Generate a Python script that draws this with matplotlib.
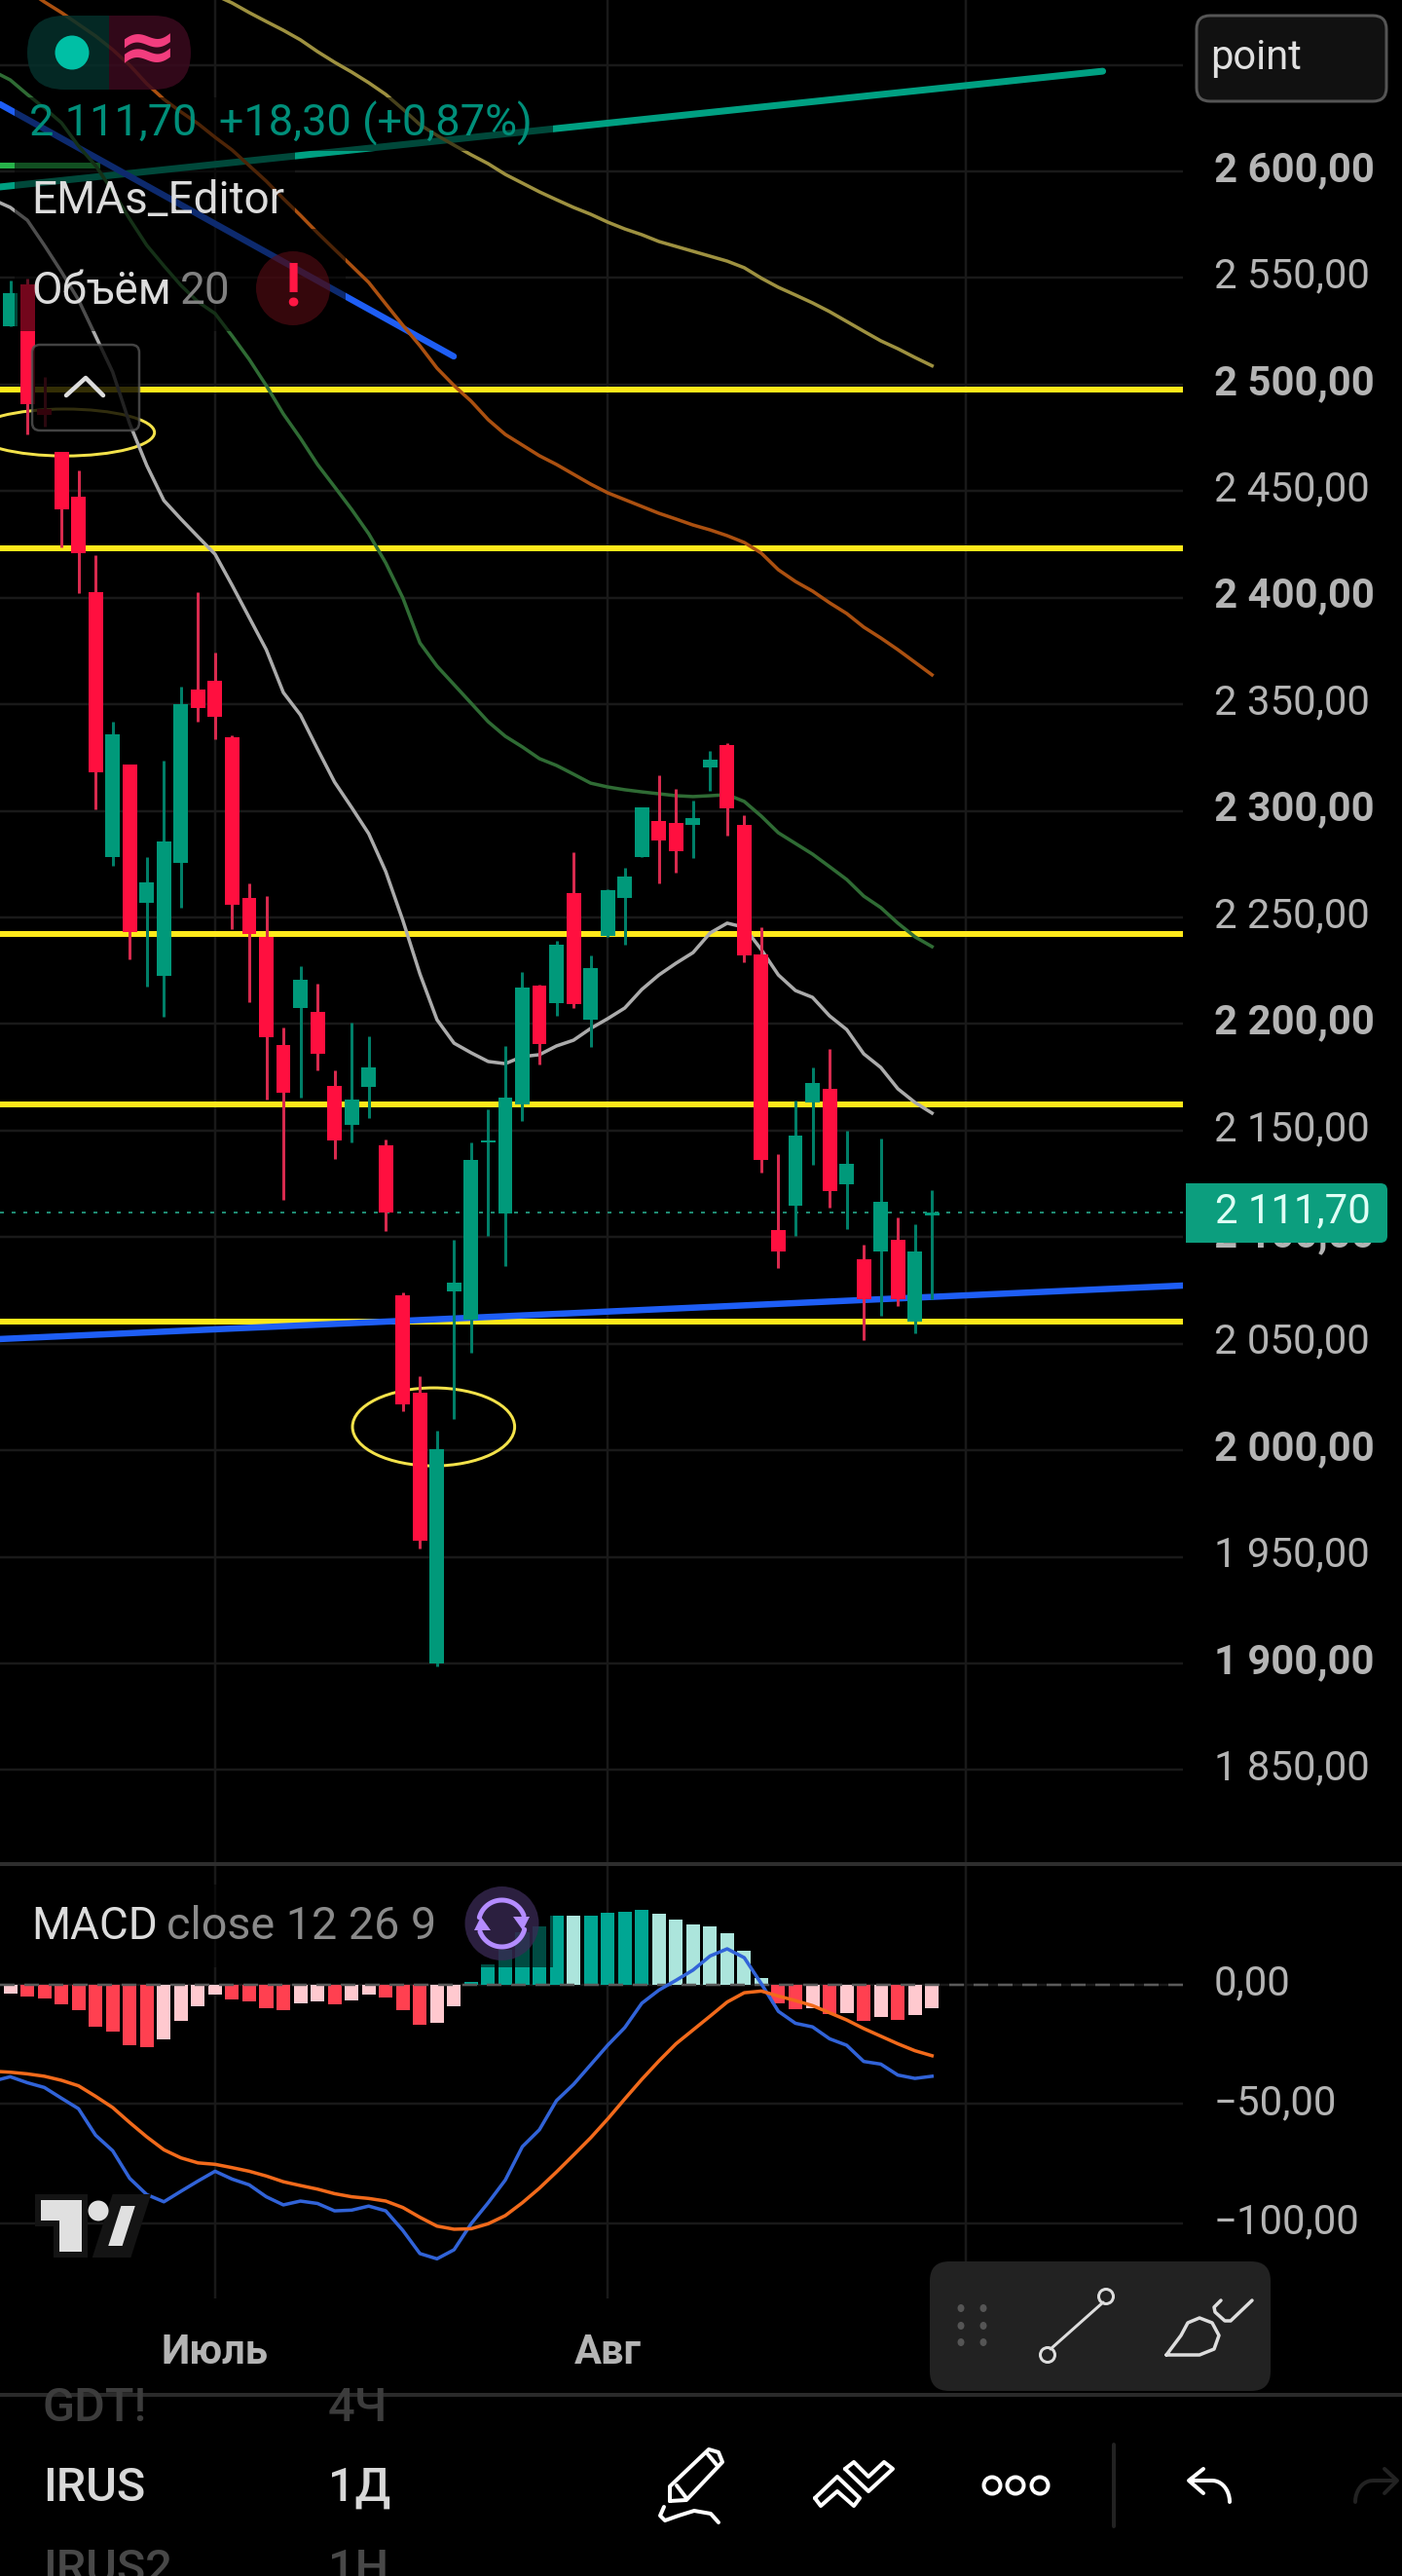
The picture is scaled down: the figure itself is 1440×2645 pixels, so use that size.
import numpy as np
import matplotlib
matplotlib.use('Agg')
import matplotlib.pyplot as plt
from matplotlib.patches import Rectangle, FancyBboxPatch, Ellipse, Circle, Polygon
from matplotlib.transforms import ScaledTranslation

plt.rcParams['font.family'] = ['Roboto', 'DejaVu Sans']

# candles, one value per bar
opens = [2527.3, 2547, 2488.5, 2468.4, 2447.4, 2402.6, 2278.3, 2321.7, 2256.9, 2222.6, 2275.6, 2357.1, 2361,
         2334.5, 2259.1, 2241, 2190.1, 2207.5, 2205.5, 2171, 2152.7, 2170.5, 2143.1, 2072.7, 2027, 1900,
         2074.5, 2061.3, 2144.5, 2111.1, 2162.3, 2218, 2210, 2261.4, 2202.2, 2241.3, 2259.2, 2278.3, 2295.2,
         2294.3, 2293.4, 2320.4, 2330.9, 2293.4, 2232.6, 2103.3, 2114.8, 2163, 2169.6, 2125, 2089.6, 2093.3,
         2098.8, 2060.2, 2110]
highs = [2548.8, 2549.7, 2503.4, 2468.4, 2459.7, 2420, 2341.8, 2321.7, 2278.3, 2323.6, 2358.3, 2402.6, 2374.3,
         2335.4, 2265.8, 2260, 2198.4, 2227.2, 2218.9, 2178.3, 2200.7, 2194.3, 2145.8, 2074.1, 2034.8, 2009.2,
         2098.8, 2144.5, 2160.2, 2189.7, 2224.4, 2218.5, 2239, 2280.8, 2232.4, 2263.4, 2273.5, 2301.6, 2316.7,
         2310.3, 2305, 2328.1, 2331.8, 2298, 2245.2, 2139, 2164.1, 2179.6, 2188.5, 2150, 2096.7, 2146.3,
         2109.3, 2106.1, 2122]
lows = [2527.3, 2476.6, 2480.5, 2423.6, 2402.2, 2300.7, 2274.2, 2230.4, 2217.6, 2203.4, 2254.6, 2341.8, 2333.6,
        2244.5, 2210.3, 2164.6, 2117.5, 2165.5, 2178.3, 2136.7, 2144.4, 2155.9, 2102.9, 2018.5, 1953.9, 1898.6,
        2014.7, 2045.8, 2100.6, 2086.2, 2154.5, 2181.2, 2203.9, 2207.5, 2189.4, 2241, 2237.4, 2278.3, 2266.2,
        2270.8, 2277.9, 2309.6, 2288.2, 2229, 2130.4, 2085.5, 2100.6, 2133.9, 2113.8, 2104, 2051.7, 2063.3,
        2067.7, 2054.9, 2071.1]
closes = [2542.9, 2490.8, 2485.8, 2441.4, 2420.9, 2318.3, 2335.9, 2243.1, 2266.4, 2285.6, 2350.1, 2348.2, 2344.1,
          2255.9, 2242.2, 2193.8, 2167.9, 2220.8, 2186.2, 2145.4, 2164.6, 2179.6, 2111.6, 2021.7, 1957.6, 2000.3,
          2078.7, 2136.2, 2145.4, 2165.5, 2216.9, 2190.6, 2237.4, 2209.5, 2226.2, 2262.8, 2269.2, 2301.6, 2285.9,
          2281.1, 2296.6, 2324, 2301.2, 2232.2, 2136.2, 2093.3, 2147.8, 2172.3, 2121.6, 2134.6, 2071.1, 2116.8,
          2071.1, 2093.3, 2111.7]

# moving averages, last value is always the last bar
ema_grey = [2586.7, 2583.1, 2577.1, 2565.3, 2552.9, 2539.7, 2522.8, 2505.9, 2481.6, 2462, 2445.6, 2436.9, 2428.6,
            2420.4, 2405.8, 2390.7, 2375.6, 2355.5, 2345, 2329, 2313.5, 2301.6, 2289.3, 2271.5, 2248.6, 2223.5,
            2202, 2191, 2186.5, 2182.4, 2181.4, 2184.7, 2185.6, 2189.7, 2192.4, 2197.9, 2202.5, 2207.5, 2216.2,
            2223, 2228.5, 2233.5, 2242.7, 2247.3, 2245.4, 2234.9, 2223, 2215.7, 2212.5, 2203.8, 2197.4, 2186,
            2179.6, 2169.6, 2163.2, 2158.2]
ema_green = [2647, 2642.9, 2636.1, 2629.7, 2622.8, 2611.9, 2602.7, 2590.8, 2577.6, 2565.3, 2555.7, 2546.5, 2538.8,
             2533.3, 2522.8, 2511.8, 2499.5, 2486.2, 2474.8, 2462.5, 2452, 2441.4, 2430, 2416.3, 2399.9, 2378.8,
             2367.9, 2359.2, 2350.5, 2341.8, 2335, 2330, 2324.5, 2321.3, 2317.2, 2313, 2311.2, 2309.9, 2308.9,
             2308, 2307.1, 2306.7, 2307.1, 2307.6, 2304.4, 2297.5, 2289.7, 2284.7, 2279.7, 2273.8, 2267.8, 2260,
             2254.6, 2247.3, 2240.9, 2236.3]
ema_orange = [2685, 2679.5, 2674.5, 2669, 2663.5, 2657.1, 2649.8, 2641.1, 2633.8, 2627.9, 2622.4, 2616, 2610,
              2602.7, 2595.4, 2587.2, 2579.4, 2571.2, 2563.4, 2555.7, 2547.9, 2537.8, 2527.8, 2518.2, 2507.7,
              2499.5, 2492.2, 2483.5, 2476.6, 2471.6, 2466.6, 2462.5, 2457.9, 2453.3, 2449.2, 2446, 2442.8, 2439.6,
              2436.9, 2434.1, 2431.8, 2429.1, 2425.9, 2420.9, 2413.1, 2407.6, 2403.1, 2397.6, 2392.6, 2386.2,
              2381.1, 2375.6, 2369.7, 2363.8]
ema_olive = [2682.7, 2679, 2674.5, 2670.3, 2666.2, 2661.7, 2656.2, 2651.2, 2646.6, 2641.6, 2636.1, 2629.2, 2621.9,
             2616.9, 2612.3, 2607.8, 2603.6, 2598.6, 2594.5, 2590.4, 2586.7, 2583.1, 2579.9, 2576.2, 2573, 2570.3,
             2567.1, 2564.8, 2562.5, 2560.2, 2557.9, 2554.8, 2549.9, 2545.6, 2542, 2538.3, 2534.2, 2529.6, 2525,
             2520.5, 2516.8, 2512.7, 2508.8]

# hand drawn levels and trend lines
yellow_levels = [2497.6, 2423.2, 2242.2, 2162.3, 2060.2]
blue_down_x = [-0.6, 25.98]
blue_down_y = [2631.5, 2513.2]
blue_up_x = [-0.6, 68.7]
blue_up_y = [2052.2, 2077.3]
teal_x = [-0.6, 64]
teal_y = [2592.7, 2647]
green_x = [-0.6, 5.1]
green_y = [2602.7, 2602.7]

# MACD pane
macd_hist = [-3.7, -5, -5.7, -8.2, -10.6, -17.5, -19.6, -25.3, -26.1, -22.8, -15.1, -9, -4.2, -6.3, -7.1, -9.8,
             -10.6, -7.9, -7.1, -8.2, -6.5, -4.2, -5.4, -10.6, -16.9, -15.9, -9.1, 1.1, 8.6, 14.7, 21.9, 24.6, 29,
             29, 29, 30, 30.6, 31.3, 29.6, 27.2, 25.2, 24.2, 21.5, 14.1, 2.7, -7.8, -10.2, -9.8, -12.2, -11.8,
             -15.1, -13.6, -14.7, -12.8, -9.9]
hist_pale = [0, 9, 10, 11, 12, 17, 18, 20, 21, 25, 26, 33, 38, 39, 40, 41, 42, 43, 44, 47, 49, 51, 53, 54]
macd_line = [-40.4, -38.6, -41.1, -43.1, -47.6, -52, -63.1, -69.6, -81.2, -88, -91, -86.6, -82.3, -78.2, -81.5,
             -83.9, -88.9, -92.3, -90.7, -91.7, -94.8, -94.5, -92.8, -94.8, -103, -112.7, -114.9, -111.1, -100.2,
             -91.4, -81.9, -67.9, -60.8, -48.6, -41.8, -33.6, -25.4, -18, -7.8, -2.3, 1.8, 6.1, 12, 15, 11.3, 0.4,
             -11.2, -16.2, -17.7, -22.7, -25.4, -32.2, -33.3, -37.9, -39.3, -38.4]
signal_line = [-36.3, -36.7, -37.4, -38.4, -40.1, -42.4, -46.8, -51.5, -57.8, -63.8, -69.2, -72.6, -74.7, -75.3,
               -76.7, -78.2, -80.2, -82.6, -84.2, -85.7, -87.6, -88.9, -89.6, -90.7, -93.4, -97.5, -101.2, -102.5,
               -102.3, -100.2, -96.8, -91.4, -85.3, -78.5, -71.4, -64.2, -56.3, -47.9, -39.7, -32, -24.8, -19,
               -13.2, -7.3, -3.4, -2.7, -4.8, -6.7, -8.8, -11.8, -14.8, -18.4, -21.6, -24.8, -27.7, -29.8]

# axis labels
price_ticks = [2650, 2600, 2550, 2500, 2450, 2400, 2350, 2300, 2250, 2200, 2150, 2100, 2050, 2000, 1950, 1900, 1850]
price_labels = ['', '2 600,00', '2 550,00', '2 500,00', '2 450,00', '2 400,00', '2 350,00', '2 300,00', '2 250,00',
                '2 200,00', '2 150,00', '2 100,00', '2 050,00', '2 000,00', '1 950,00', '1 900,00', '1 850,00']
macd_ticks = [0, -50, -100]
macd_labels = ['0,00', '\u221250,00', '\u2212100,00']
month_ticks = [12, 35, 56]
month_labels = ['Июль', 'Авг', 'Сен']

W, H = 1440, 2645
RED = '#FF0F3F'
GREEN = '#00997A'
GRID = '#191919'
GREY = '#B4B4B4'


def px(n):
    return n * 0.72


fig = plt.figure(figsize=(W / 100, H / 100), dpi=100, facecolor='black')
ax = fig.add_axes([0, 1 - 1912 / H, 1215 / W, 1912 / H], facecolor='black')
ax2 = fig.add_axes([0, 1 - 2360 / H, 1215 / W, (2360 - 1916) / H], facecolor='black')
ovl = fig.add_axes([0, 0, 1, 1], facecolor='none', zorder=10)
ovl.set_xlim(0, W)
ovl.set_ylim(H, 0)
ovl.axis('off')

for a in (ax, ax2):
    a.set_xlim(-0.6, 68.7)
    for s in a.spines.values():
        s.set_visible(False)
    a.yaxis.tick_right()
    a.set_xticks(month_ticks)
    a.set_axisbelow(True)
    a.grid(True, color=GRID, lw=px(2.5))
    a.tick_params(length=0, colors=GREY)

ax.set_ylim(1806.8, 2680.4)
ax.set_yticks(price_ticks)
ax.set_yticklabels(price_labels, fontsize=30.2, color=GREY)
ax.tick_params(axis='y', pad=23)
ax.tick_params(axis='x', labelbottom=False)
lift = ScaledTranslation(0, 6 / 100, fig.dpi_scale_trans)
for lab, val in zip(ax.get_yticklabels(), price_ticks):
    lab.set_transform(lab.get_transform() + lift)
    if val % 100 == 0:
        lab.set_fontweight('bold')

# levels and trend lines
for lev in yellow_levels:
    ax.axhline(lev, color='#FFE81A', lw=px(6), zorder=2)
ax.plot(teal_x, teal_y, color='#00A082', lw=px(7), zorder=2, solid_capstyle='round')
ax.plot(green_x, green_y, color='#27B34A', lw=px(6), zorder=2)
ax.plot(blue_down_x, blue_down_y, color='#1E5EF5', lw=px(6.5), zorder=3, solid_capstyle='round')
ax.plot(blue_up_x, blue_up_y, color='#1E5EF5', lw=px(6.5), zorder=3)
ax.add_patch(Ellipse((3.2, 2477.5), 10.5, 22, fc='none', ec='#F3E24A', lw=px(3), zorder=2))
ax.add_patch(Ellipse((24.8, 2011), 9.5, 36.6, fc='none', ec='#F3E24A', lw=px(3), zorder=2))

# last price
ax.axhline(closes[-1], color='#1F8A72', lw=px(2), dashes=(2, 4), zorder=1.5)

# moving averages
n = len(opens)
ax.plot(np.arange(n - len(ema_olive), n), ema_olive, color='#9E9140', lw=px(3.5), zorder=3)
ax.plot(np.arange(n - len(ema_orange), n), ema_orange, color='#AB5010', lw=px(3.5), zorder=3)
ax.plot(np.arange(n - len(ema_green), n), ema_green, color='#2F6B34', lw=px(3.5), zorder=3)
ax.plot(np.arange(n - len(ema_grey), n), ema_grey, color='#ABABAB', lw=px(3.5), zorder=3)

# candles
x = np.arange(n)
o = np.array(opens)
c = np.array(closes)
cols = [GREEN if c[i] >= o[i] else RED for i in x]
wick_cols = ['#007F68' if c[i] >= o[i] else '#D82A4E' for i in x]
ax.vlines(x, lows, highs, colors=wick_cols, lw=px(3), zorder=5)
ax.bar(x, np.abs(c - o), bottom=np.minimum(o, c), width=0.85, color=cols, zorder=6)

# MACD
ax2.set_ylim(-131.5, 49.7)
ax2.set_yticks(macd_ticks)
ax2.set_yticklabels(macd_labels, fontsize=30.2, color=GREY)
ax2.tick_params(axis='y', pad=23)
for lab in ax2.get_yticklabels():
    lab.set_transform(lab.get_transform() + ScaledTranslation(0, 5 / 100, fig.dpi_scale_trans))
ax2.set_xticklabels(month_labels, fontsize=30, fontweight='bold', color=GREY)
ax2.tick_params(axis='x', pad=25)
hist_cols = []
for i, v in enumerate(macd_hist):
    if v >= 0:
        hist_cols.append('#ACE5DC' if i in hist_pale else '#00A693')
    else:
        hist_cols.append('#FFC9CF' if i in hist_pale else '#FF4050')
ax2.bar(x, macd_hist, width=0.8, color=hist_cols, zorder=2)
ax2.axhline(0, color='#5A5A5A', lw=px(2.5), dashes=(6, 4), zorder=2.5)
ax2.plot(np.arange(-1, n), macd_line, color='#3163D8', lw=px(3.5), zorder=3)
ax2.plot(np.arange(-1, n), signal_line, color='#F26A1B', lw=px(3.5), zorder=3)


# screen chrome from here on, in image pixels
def rbox(x0, y0, x1, y1, r, **kw):
    p = FancyBboxPatch((x0, y0), x1 - x0, y1 - y0, boxstyle='round,pad=0,rounding_size=%g' % r, **kw)
    ovl.add_patch(p)
    return p


def stroke(xs, ys, color='white', w=4, **kw):
    ovl.plot(xs, ys, color=color, lw=px(w), solid_capstyle='round', solid_joinstyle='round', **kw)


ovl.add_patch(Rectangle((0, 1912), W, 4, fc='#2E2E2E', ec='none'))
ovl.add_patch(Rectangle((0, 2457), W, 4, fc='#2A2A2A', ec='none'))

# translucent legend rows
ovl.add_patch(Rectangle((15, 100), 553, 55, fc='black', ec='none', alpha=0.55))
ovl.add_patch(Rectangle((15, 155), 288, 80, fc='black', ec='none', alpha=0.55))
ovl.add_patch(Rectangle((15, 235), 340, 105, fc='black', ec='none', alpha=0.55))
ovl.add_patch(Rectangle((15, 1935), 553, 85, fc='black', ec='none', alpha=0.55))

# status pill
left = rbox(28, 16, 196, 92, 38, fc='#05302B', ec='none', alpha=0.85)
left.set_clip_path(Rectangle((0, 0), 112, 200, transform=ovl.transData))
right = rbox(28, 16, 196, 92, 38, fc='#3A0A1E', ec='none', alpha=0.85)
right.set_clip_path(Rectangle((112, 0), 200, 200, transform=ovl.transData))
ovl.add_patch(Ellipse((74, 54), 35, 35, fc='#00BFA5', ec='none'))
ovl.text(151, 53, '≈', color='#F23D7E', fontsize=54, fontweight='bold', ha='center', va='center',
         family='DejaVu Sans')

ovl.text(30, 127, '2 111,70  +18,30 (+0,87%)', color='#008F7A', fontsize=32.5, va='center')
ovl.text(32, 206, 'EMAs_Editor', color='#DCDCDC', fontsize=33, va='center')
ovl.text(32, 299, 'Объём', color='#DCDCDC', fontsize=33, va='center')
ovl.text(185, 299, '20', color='#808080', fontsize=33, va='center')

# warning badge
ovl.add_patch(Ellipse((301, 296), 76, 76, fc='#5A0C15', ec='none', alpha=0.6))
ovl.text(301, 296, '!', color='#FF1744', fontsize=44, fontweight='bold', ha='center', va='center')

# collapse button
rbox(33, 354, 143, 442, 8, fc='#000000', ec='#555555', lw=px(2.5), alpha=0.8)
stroke([68, 88, 106], [406, 388, 406], color='#DDDDDD', w=4.5)

# interval box and price tag
rbox(1229, 16, 1424, 104, 14, fc='#111111', ec='#555555', lw=px(3))
ovl.text(1243, 60, 'point', color='#E0E0E0', fontsize=30, va='center')
rbox(1218, 1215, 1425, 1276, 7, fc='#0C9E7E', ec='none')
ovl.add_patch(Rectangle((1218, 1215), 12, 61, fc='#0C9E7E', ec='none'))
ovl.text(1248, 1244, '2 111,70', color='#DFFFF5', fontsize=30.2, va='center')

# MACD title and sync icon
ovl.text(32, 1978, 'MACD', color='#DCDCDC', fontsize=33, va='center')
ovl.text(171, 1978, 'close 12 26 9', color='#8A8A8A', fontsize=33.7, va='center')
ovl.add_patch(Circle((515.5, 1975), 38, fc='#3A2A55', ec='none', alpha=0.75))
t1 = np.radians(np.linspace(20, 165, 30))
t2 = np.radians(np.linspace(200, 345, 30))
stroke(515.5 + 24 * np.cos(t1), 1975 - 24 * np.sin(t1), color='#B48CFF', w=5)
stroke(515.5 + 24 * np.cos(t2), 1975 - 24 * np.sin(t2), color='#B48CFF', w=5)
ovl.add_patch(Polygon([[527, 1968], [544, 1968], [537, 1982]], fc='#B48CFF', ec='none'))
ovl.add_patch(Polygon([[487, 1982], [504, 1982], [494, 1968]], fc='#B48CFF', ec='none'))

# watermark, the dark edge keeps it off the lines
logo_edge = dict(ec='#141414', lw=px(12), joinstyle='miter')
ovl.add_patch(Polygon([[42, 2259], [84, 2259], [84, 2312], [61, 2312], [61, 2280], [42, 2280]], fc='#E0E0E0', **logo_edge))
ovl.add_patch(Polygon([[120, 2259], [147, 2259], [130, 2312], [103, 2312]], fc='#E0E0E0', **logo_edge))
ovl.add_patch(Circle((101, 2270), 10.5, fc='#E0E0E0', ec='none'))
ovl.add_patch(Polygon([[42, 2259], [84, 2259], [84, 2312], [61, 2312], [61, 2280], [42, 2280]], fc='#E0E0E0', ec='none'))

# drawing toolbar
rbox(955, 2322, 1305, 2455, 20, fc='#222222', ec='none')
for dx in (987, 1010):
    for dy in (2370, 2388, 2405):
        ovl.add_patch(Ellipse((dx, dy), 7, 8, fc='#555555', ec='none'))
stroke([1079, 1133], [2412, 2364], color='#DDDDDD', w=3)
ovl.add_patch(Circle((1076, 2418), 7.5, fc='none', ec='#DDDDDD', lw=px(3)))
ovl.add_patch(Circle((1136, 2358), 7.5, fc='none', ec='#DDDDDD', lw=px(3)))
stroke([1198, 1232, 1247, 1252, 1245, 1232, 1220, 1213, 1198], [2418, 2418, 2412, 2398, 2385, 2380, 2385, 2398, 2418],
       color='#DDDDDD', w=3.5)
stroke([1254, 1247, 1248, 1258, 1264, 1286], [2362, 2369, 2374, 2383, 2383, 2362], color='#DDDDDD', w=3.5)

# symbol list under the chart
clip = Rectangle((0, 2461), W, 190, transform=ovl.transData)
for tx, ty, s, col in [(44, 2486, 'GDT!', '#3C3C3C'), (337, 2486, '4Ч', '#3C3C3C'),
                       (44, 2568, 'IRUS', '#D8D8D8'), (337, 2568, '1Д', '#D8D8D8'),
                       (44, 2652, 'IRUS2', '#484848'), (337, 2652, '1Н', '#484848')]:
    txt = ovl.text(tx, ty, s, color=col, fontsize=35, fontweight='medium', va='baseline')
    txt.set_clip_path(clip)

# bottom toolbar icons
stroke([688, 688, 728, 738, 742, 705, 688], [2568, 2553, 2515, 2518, 2528, 2567, 2568], w=4)
stroke([695, 705], [2552, 2565], w=4)
stroke([727, 737], [2520, 2532], w=4)
stroke([682, 678, 683, 697, 713, 730, 738], [2574, 2583, 2588, 2583, 2578, 2581, 2590], w=4)
stroke([837, 860, 883, 877, 860, 843, 837], [2565, 2543, 2565, 2573, 2558, 2573, 2565], w=4)
stroke([868, 877, 892, 908, 917, 892, 868], [2535, 2528, 2543, 2528, 2535, 2558, 2535], w=4)
for cx in (1019, 1043, 1068):
    ovl.add_patch(Circle((cx, 2552), 8.5, fc='none', ec='white', lw=px(4)))
stroke([1144, 1144], [2510, 2594], color='#222222', w=4)
stroke([1236, 1221, 1236], [2535, 2547, 2560], w=4)
t3 = np.radians(np.linspace(90, 0, 12))
stroke(np.r_[1222, 1245 + 18 * np.cos(t3)], np.r_[2547, 2569 - 22 * np.sin(t3)], w=4)
stroke([1422, 1435, 1422], [2535, 2547, 2560], color='#222222', w=4)
stroke(np.r_[1433, 1410 - 18 * np.cos(t3)], np.r_[2547, 2569 - 22 * np.sin(t3)], color='#222222', w=4)

fig.savefig('out.png', dpi=100, facecolor='black')
